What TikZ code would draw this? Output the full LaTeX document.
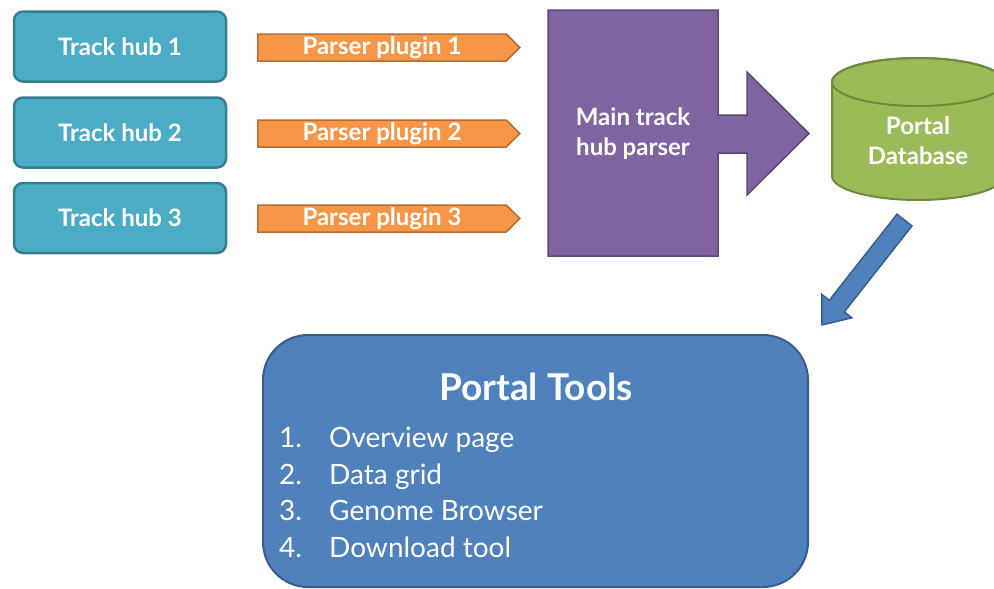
\documentclass[tikz,border=0pt]{standalone}
\usepackage{fontspec}
\setmainfont{Lato}
\usetikzlibrary{shapes.symbols}
\definecolor{hubfill}{HTML}{4BACC6}
\definecolor{hubline}{HTML}{357D91}
\definecolor{plugfill}{HTML}{F79646}
\definecolor{plugline}{HTML}{B66D31}
\definecolor{mainfill}{HTML}{8064A2}
\definecolor{mainline}{HTML}{5C4776}
\definecolor{dbfill}{HTML}{9BBB59}
\definecolor{dbline}{HTML}{71893F}
\definecolor{toolfill}{HTML}{4F81BD}
\definecolor{toolline}{HTML}{385D8A}
\tikzset{
  hubbox/.style={draw=hubline, fill=hubfill, line width=2.5pt, rounded corners=9pt,
    minimum width=212pt, minimum height=70pt, text=white, font=\fontsize{24}{28}\selectfont\bfseries},
  plugbox/.style={signal, signal to=east, signal pointer angle=90, draw=plugline, fill=plugfill,
    line width=1.5pt, minimum width=262pt, minimum height=27pt, inner sep=0pt, text=white,
    font=\fontsize{24}{28}\selectfont\bfseries},
  whitebold/.style={text=white, font=\fontsize{24}{30}\selectfont\bfseries, align=center},
  listnum/.style={text=white, font=\fontsize{28}{32}\selectfont, anchor=base west, inner sep=0pt},
}
\begin{document}
\begin{tikzpicture}[x=1pt, y=-1pt]
\useasboundingbox (0,0) rectangle (994,589);
\clip (0,0) rectangle (994,589);

% track hubs
\node[hubbox] (hub1) at (120,46.5) {Track hub 1};
\node[hubbox] (hub2) at (120,132.5) {Track hub 2};
\node[hubbox] (hub3) at (120,218) {Track hub 3};

% parser plugins
\node[plugbox] (plug1) at (382,47.5) {Parser plugin 1};
\node[plugbox] (plug2) at (382,133.5) {Parser plugin 2};
\node[plugbox] (plug3) at (382,218.5) {Parser plugin 3};

% main parser block with its outgoing block arrow
\draw[fill=mainfill, draw=mainline, line width=1.5pt, line join=miter]
  (548,10) -- (718,10) -- (718,115) -- (747,115) -- (747,72) -- (809,133.5)
  -- (747,195) -- (747,153) -- (718,153) -- (718,256) -- (548,256) -- cycle;
\node[whitebold] (main) at (633,134) {Main track\\hub parser};

% portal database cylinder
\draw[fill=dbfill, draw=dbline, line width=2pt]
  (832,82) -- (832,176) arc[start angle=180, end angle=0, x radius=86, y radius=24]
  -- (1004,82) arc[start angle=0, end angle=-180, x radius=86, y radius=24] -- cycle;
\draw[draw=dbline, line width=2pt] (918,82) ellipse[x radius=86, y radius=24];
\node[whitebold] (db) at (918,141) {Portal\\Database};

% arrow from the database down to the tools
\draw[fill=toolfill, draw=toolline, line width=1.5pt, line join=miter]
  (897,214.2) -- (912,225.9) -- (844.3,311.9) -- (851.8,317.8) -- (822,325)
  -- (821.8,294.4) -- (829.3,300.3) -- cycle;

% portal tools
\node[draw=toolline, fill=toolfill, line width=2pt, rounded corners=45pt,
  minimum width=545pt, minimum height=252pt] (tools) at (535.5,461) {};
\node[text=white, font=\fontsize{37}{42}\selectfont\bfseries, anchor=base] (title) at (536,400) {Portal Tools};
\node[listnum] (n1) at (279,447) {1.};
\node[listnum] (t1) at (329,447) {Overview page};
\node[listnum] (n2) at (279,484) {2.};
\node[listnum] (t2) at (329,484) {Data grid};
\node[listnum] (n3) at (279,520) {3.};
\node[listnum] (t3) at (329,520) {Genome Browser};
\node[listnum] (n4) at (279,557) {4.};
\node[listnum] (t4) at (329,557) {Download tool};
\end{tikzpicture}
\end{document}
